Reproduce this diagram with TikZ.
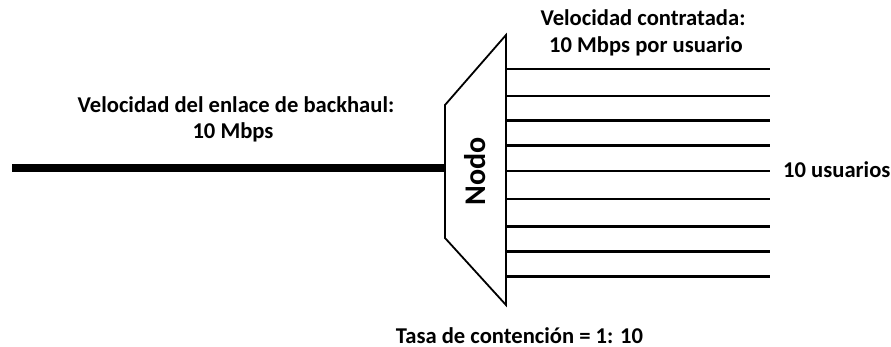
\documentclass[tikz,border=0pt]{standalone}
\usepackage{fontspec}
\setmainfont{Carlito}
\begin{document}
\begin{tikzpicture}[x=1pt,y=-1pt,
  lbl/.style={font=\bfseries\fontsize{22.6}{27}\selectfont, inner sep=0pt},
  biglbl/.style={font=\bfseries\fontsize{30}{36}\selectfont, inner sep=0pt},
  userline/.style={line width=2.6pt},
  backhaul/.style={line width=8pt},
  nodeshape/.style={line width=1.8pt, line join=miter}]
\useasboundingbox (0,0) rectangle (891,347);
% trapezoid node
\coordinate (tr) at (506,35);
\coordinate (tl) at (445,105);
\coordinate (bl) at (445,238);
\coordinate (br) at (506,305);
\draw[nodeshape] (tr) -- (tl) -- (bl) -- (br) -- cycle;
\node[biglbl, rotate=90] (nodo) at (475,171) {Nodo};
% backhaul
\coordinate (bhs) at (12,168);
\coordinate (bhe) at (445,168);
\draw[backhaul] (bhs) -- (bhe);
% user lines
\foreach \y [count=\i] in {69,96,120.7,145.7,171,199,226.7,251.7,276.7} {
  \coordinate (us\i) at (506,\y);
  \coordinate (ue\i) at (770,\y);
  \draw[userline] (us\i) -- (ue\i);
}
% labels
\node[lbl, anchor=base] (bh1) at (236,113) {Velocidad del enlace de backhaul:};
\node[lbl, anchor=base] (bh2) at (233,139) {10 Mbps};
\node[lbl, anchor=base] (vc1) at (643,25.7) {Velocidad contratada:};
\node[lbl, anchor=base] (vc2) at (646,52.7) {10 Mbps por usuario};
\node[lbl, anchor=base west] (users) at (783,178) {10 usuarios};
\node[lbl, anchor=base] (tasa) at (519.5,343) {Tasa de contención = 1: 10};
\end{tikzpicture}
\end{document}
